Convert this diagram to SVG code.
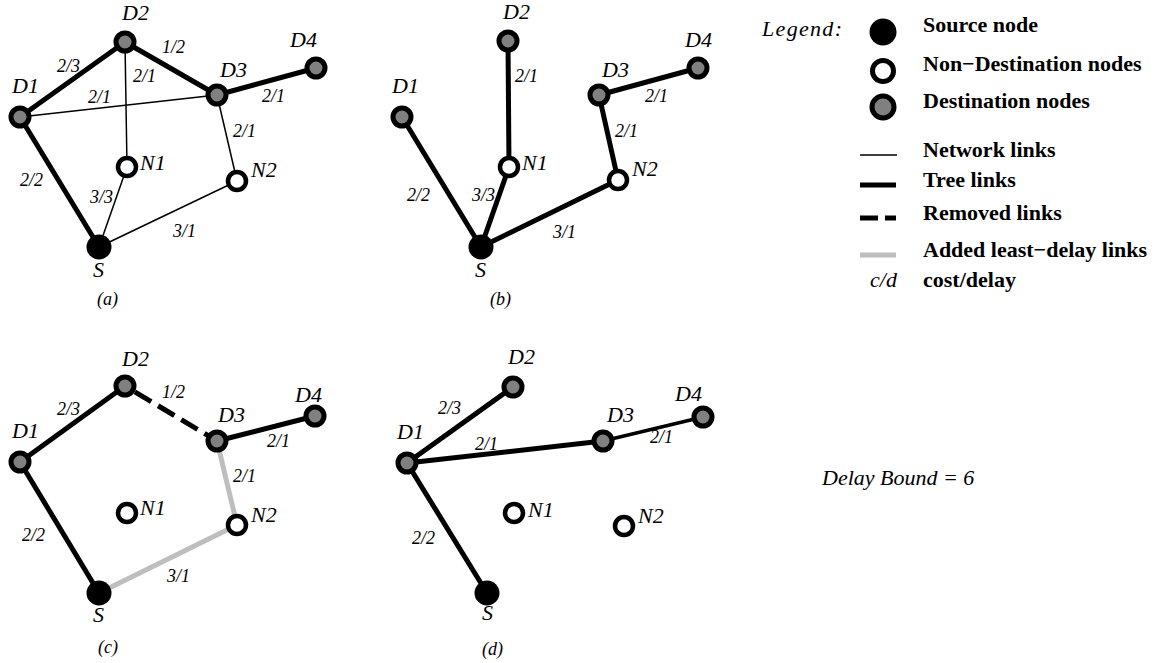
<svg xmlns="http://www.w3.org/2000/svg" width="1158" height="663" viewBox="0 0 1158 663">
<style>
.net{stroke:#000;stroke-width:1.5;fill:none}
.tree{stroke:#000;stroke-width:5;fill:none}
.rem{stroke:#000;stroke-width:5;stroke-dasharray:19 8;fill:none}
.add{stroke:#bebebe;stroke-width:5;fill:none}
.dst{fill:#808080;stroke:#000;stroke-width:5}
.non{fill:#fff;stroke:#000;stroke-width:4.5}
.src{fill:#000}
.lbl{font-family:"Liberation Serif",serif;font-style:italic;font-size:22px;fill:#000}
.cst{font-family:"Liberation Serif",serif;font-style:italic;font-size:18px;fill:#000}
.cap{font-family:"Liberation Serif",serif;font-style:italic;font-size:18px;fill:#000}
.leg{font-family:"Liberation Serif",serif;font-weight:bold;font-size:22px;fill:#000}
</style>
<rect width="1158" height="663" fill="#fff"/>

<!-- ===================== connectors ===================== -->
<g id="connectors">
  <!-- panel (a) -->
  <line class="tree" x1="20" y1="117" x2="125" y2="42"/>
  <line class="tree" x1="125" y1="42" x2="217" y2="95"/>
  <line class="tree" x1="217" y1="95" x2="316" y2="68"/>
  <line class="tree" x1="20" y1="117" x2="99" y2="247"/>
  <line class="net" x1="125" y1="42" x2="127" y2="167"/>
  <line class="net" x1="20" y1="117" x2="217" y2="95"/>
  <line class="net" x1="217" y1="95" x2="237" y2="181"/>
  <line class="net" x1="127" y1="167" x2="99" y2="247"/>
  <line class="net" x1="237" y1="181" x2="99" y2="247"/>
  <!-- panel (b) -->
  <line class="tree" x1="402" y1="117" x2="481" y2="247"/>
  <line class="tree" x1="509" y1="167" x2="481" y2="247"/>
  <line class="tree" x1="618" y1="180" x2="481" y2="247"/>
  <line class="tree" x1="508" y1="41" x2="509" y2="167"/>
  <line class="tree" x1="599" y1="95" x2="618" y2="180"/>
  <line class="tree" x1="599" y1="95" x2="698" y2="68"/>
  <!-- panel (c) -->
  <line class="tree" x1="20" y1="462" x2="125" y2="386"/>
  <line class="tree" x1="20" y1="462" x2="99" y2="593"/>
  <line class="tree" x1="217" y1="441" x2="315" y2="416"/>
  <line class="rem" x1="134.9" y1="391.9" x2="217" y2="441"/>
  <line class="add" x1="217" y1="441" x2="237" y2="525"/>
  <line class="add" x1="237" y1="525" x2="99" y2="593"/>
  <!-- panel (d) -->
  <line class="tree" x1="407" y1="463" x2="513" y2="387"/>
  <line class="tree" x1="407" y1="463" x2="603" y2="441"/>
  <line class="tree" x1="407" y1="463" x2="487" y2="593"/>
  <line class="tree" style="stroke-width:3.5" x1="603" y1="441" x2="703" y2="417"/>
</g>

<!-- cost/delay labels -->
<g id="link-labels">
  <text class="cst" x="57" y="72">2/3</text>
  <text class="cst" x="162" y="53">1/2</text>
  <text class="cst" x="133" y="82">2/1</text>
  <text class="cst" x="88" y="103">2/1</text>
  <text class="cst" x="262" y="102">2/1</text>
  <text class="cst" x="233" y="137">2/1</text>
  <text class="cst" x="20" y="186">2/2</text>
  <text class="cst" x="90" y="203">3/3</text>
  <text class="cst" x="173" y="237">3/1</text>

  <text class="cst" x="515" y="82">2/1</text>
  <text class="cst" x="645" y="102">2/1</text>
  <text class="cst" x="615" y="137">2/1</text>
  <text class="cst" x="407" y="201">2/2</text>
  <text class="cst" x="472" y="201">3/3</text>
  <text class="cst" x="553" y="238">3/1</text>

  <text class="cst" x="57" y="415">2/3</text>
  <text class="cst" x="162" y="398">1/2</text>
  <text class="cst" x="267" y="447">2/1</text>
  <text class="cst" x="233" y="482">2/1</text>
  <text class="cst" x="22" y="541">2/2</text>
  <text class="cst" x="167" y="582">3/1</text>

  <text class="cst" x="438" y="414">2/3</text>
  <text class="cst" x="475" y="450">2/1</text>
  <text class="cst" x="650" y="443">2/1</text>
  <text class="cst" x="412" y="544">2/2</text>
</g>

<!-- ===================== panel (a) nodes ===================== -->
<g id="a-D1"><circle class="dst" cx="20" cy="117" r="9"/><text class="lbl" x="12" y="93">D1</text></g>
<g id="a-D2"><circle class="dst" cx="125" cy="42" r="9"/><text class="lbl" x="122" y="20">D2</text></g>
<g id="a-D3"><circle class="dst" cx="217" cy="95" r="9"/><text class="lbl" x="220" y="77">D3</text></g>
<g id="a-D4"><circle class="dst" cx="316" cy="68" r="9"/><text class="lbl" x="290" y="47">D4</text></g>
<g id="a-N1"><circle class="non" cx="127" cy="167" r="9"/><text class="lbl" x="140" y="170">N1</text></g>
<g id="a-N2"><circle class="non" cx="237" cy="181" r="9"/><text class="lbl" x="251" y="177">N2</text></g>
<g id="a-S"><circle class="src" cx="99" cy="247" r="12.5"/><text class="lbl" x="93" y="277">S</text></g>
<text class="cap" x="97" y="305">(a)</text>

<!-- ===================== panel (b) nodes ===================== -->
<g id="b-D1"><circle class="dst" cx="402" cy="117" r="9"/><text class="lbl" x="392" y="93">D1</text></g>
<g id="b-D2"><circle class="dst" cx="508" cy="41" r="9"/><text class="lbl" x="503" y="19">D2</text></g>
<g id="b-D3"><circle class="dst" cx="599" cy="95" r="9"/><text class="lbl" x="602" y="77">D3</text></g>
<g id="b-D4"><circle class="dst" cx="698" cy="68" r="9"/><text class="lbl" x="685" y="47">D4</text></g>
<g id="b-N1"><circle class="non" cx="509" cy="167" r="9"/><text class="lbl" x="522" y="170">N1</text></g>
<g id="b-N2"><circle class="non" cx="618" cy="180" r="9"/><text class="lbl" x="632" y="176">N2</text></g>
<g id="b-S"><circle class="src" cx="481" cy="247" r="12.5"/><text class="lbl" x="475" y="277">S</text></g>
<text class="cap" x="490" y="305">(b)</text>

<!-- ===================== panel (c) nodes ===================== -->
<g id="c-D1"><circle class="dst" cx="20" cy="462" r="9"/><text class="lbl" x="12" y="438">D1</text></g>
<g id="c-D2"><circle class="dst" cx="125" cy="386" r="9"/><text class="lbl" x="122" y="366">D2</text></g>
<g id="c-D3"><circle class="dst" cx="217" cy="441" r="9"/><text class="lbl" x="218" y="422">D3</text></g>
<g id="c-D4"><circle class="dst" cx="315" cy="416" r="9"/><text class="lbl" x="295" y="402">D4</text></g>
<g id="c-N1"><circle class="non" cx="127" cy="513" r="9"/><text class="lbl" x="140" y="515">N1</text></g>
<g id="c-N2"><circle class="non" cx="237" cy="525" r="9"/><text class="lbl" x="251" y="522">N2</text></g>
<g id="c-S"><circle class="src" cx="99" cy="593" r="12.5"/><text class="lbl" x="93" y="622">S</text></g>
<text class="cap" x="98" y="653">(c)</text>

<!-- ===================== panel (d) nodes ===================== -->
<g id="d-D1"><circle class="dst" cx="407" cy="463" r="9"/><text class="lbl" x="397" y="439">D1</text></g>
<g id="d-D2"><circle class="dst" cx="513" cy="387" r="9"/><text class="lbl" x="508" y="364">D2</text></g>
<g id="d-D3"><circle class="dst" cx="603" cy="441" r="9"/><text class="lbl" x="607" y="422">D3</text></g>
<g id="d-D4"><circle class="dst" cx="703" cy="417" r="9"/><text class="lbl" x="675" y="401">D4</text></g>
<g id="d-N1"><circle class="non" cx="514" cy="513" r="9"/><text class="lbl" x="528" y="517">N1</text></g>
<g id="d-N2"><circle class="non" cx="624" cy="526" r="9"/><text class="lbl" x="638" y="523">N2</text></g>
<g id="d-S"><circle class="src" cx="487" cy="593" r="12.5"/><text class="lbl" x="482" y="620">S</text></g>
<text class="cap" x="482" y="655">(d)</text>

<!-- ===================== legend ===================== -->
<g id="legend">
  <text class="lbl" x="762" y="36" textLength="80" lengthAdjust="spacing">Legend:</text>
  <circle class="src" cx="883" cy="32" r="13.5"/>
  <text class="leg" x="923" y="32">Source node</text>
  <circle class="non" cx="883" cy="71" r="10.5" style="stroke-width:5"/>
  <text class="leg" x="923" y="71">Non−Destination nodes</text>
  <circle class="dst" cx="883" cy="107" r="11" style="stroke-width:5"/>
  <text class="leg" x="923" y="108">Destination nodes</text>
  <line class="net" x1="860" y1="155" x2="897" y2="155"/>
  <text class="leg" x="923" y="157">Network links</text>
  <line class="tree" x1="860" y1="185" x2="896" y2="185"/>
  <text class="leg" x="923" y="187">Tree links</text>
  <line class="tree" x1="860" y1="218" x2="878" y2="218"/>
  <line class="tree" x1="885" y1="218" x2="896" y2="218"/>
  <text class="leg" x="923" y="220">Removed links</text>
  <line class="add" x1="860" y1="255" x2="896" y2="255"/>
  <text class="leg" x="923" y="257">Added least−delay links</text>
  <text class="lbl" x="897" y="287" text-anchor="end">c/d</text>
  <text class="leg" x="923" y="287">cost/delay</text>
</g>

<text class="lbl" x="822" y="485">Delay Bound = 6</text>
</svg>
